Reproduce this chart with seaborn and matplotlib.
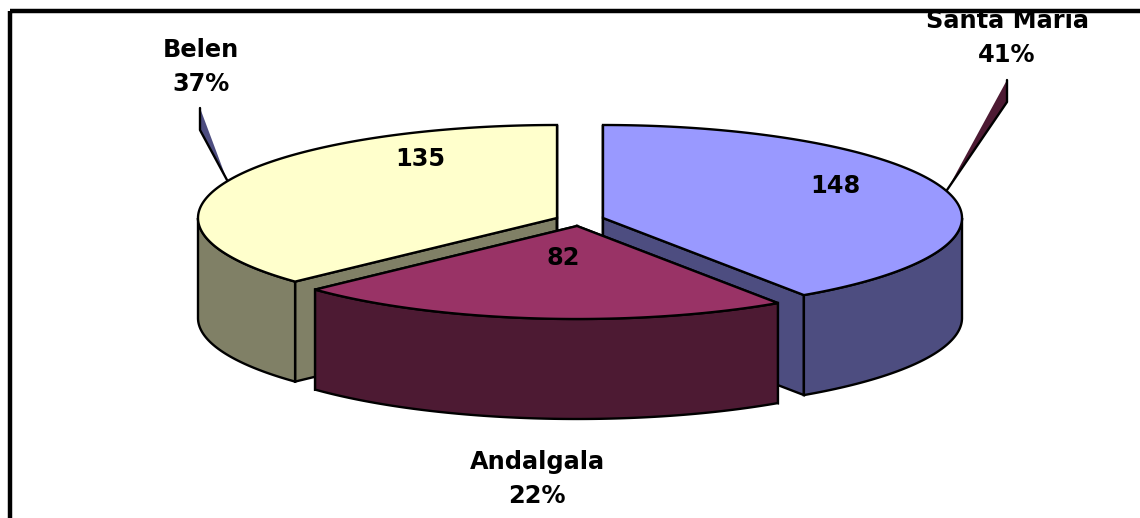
import numpy as np
import seaborn as sns
import matplotlib.pyplot as plt
from matplotlib.patches import Rectangle

names = ["Santa Maria", "Andalgala", "Belen"]
counts = [148, 82, 135]
percents = ["41%", "22%", "37%"]
top_colors = ["#9999FF", "#993366", "#FFFFCC"]

sns.set_theme(style="white")
plt.rcParams["font.family"] = ["DejaVu Sans"]
side_colors = [tuple(c * 0.5 for c in col) for col in sns.color_palette(top_colors)]

# pie geometry in image pixels
rx, ry, depth = 359, 93, 100
centers = [(603, 218), (577, 226), (557, 218)]
count_pos = [(835, 186), (563, 258), (420, 159)]
label_pos = [(1007, 38), (537, 479), (201, 67)]
edge = dict(edgecolor="black", linewidth=1.7, joinstyle="miter")


def rim(cx, cy, a, b):
    t = np.radians(np.linspace(a, b, 200))
    return cx + rx * np.sin(t), cy - ry * np.cos(t)


fig = plt.figure(figsize=(11.4, 5.18), dpi=100)
ax = fig.add_axes([0, 0, 1, 1])
ax.set_xlim(0, 1140)
ax.set_ylim(518, 0)
ax.axis("off")

shares = np.array(counts) / sum(counts) * 360
ends = np.cumsum(shares)
starts = ends - shares

# back wedge first so the front one sits over it
for i in [2, 0, 1]:
    cx, cy = centers[i]
    a, b = starts[i], ends[i]
    for ang in (a, b):
        ex, ey = rim(cx, cy, ang, ang)
        ax.fill([cx, ex[0], ex[0], cx], [cy, ey[0], ey[0] + depth, cy + depth],
                facecolor=side_colors[i], **edge)
    lo, hi = max(a, 90), min(b, 270)
    sx, sy = rim(cx, cy, lo, hi)
    ax.fill(np.r_[sx, sx[::-1]], np.r_[sy, sy[::-1] + depth],
            facecolor=side_colors[i], **edge)
    tx, ty = rim(cx, cy, a, b)
    ax.fill(np.r_[cx, tx], np.r_[cy, ty], facecolor=top_colors[i], **edge)

# leader lines
ax.fill([947, 1007, 1007], [190, 80, 102], facecolor=side_colors[1],
        edgecolor="none")
ax.plot([947, 1007, 1007], [190, 102, 80], color="black", lw=1.7)
ax.fill([227, 200, 200], [180, 108, 130], facecolor=side_colors[0],
        edgecolor="none")
ax.plot([227, 200, 200], [180, 130, 108], color="black", lw=1.7)

frame = Rectangle((10.3, 11.3), 1200, 600, facecolor="none", edgecolor="black",
                  linewidth=3.2, zorder=5)
ax.add_patch(frame)

for i, name in enumerate(names):
    ax.text(*count_pos[i], str(counts[i]), ha="center", va="center",
            fontsize=17.3, fontweight="bold", color="black")
    t = ax.text(label_pos[i][0], label_pos[i][1], name + "\n" + percents[i],
                ha="center", va="center", fontsize=17.3, fontweight="bold",
                color="black", linespacing=1.56)
    t.set_clip_on(True)
    t.set_clip_path(frame)

plt.savefig("out.png", dpi=100)
